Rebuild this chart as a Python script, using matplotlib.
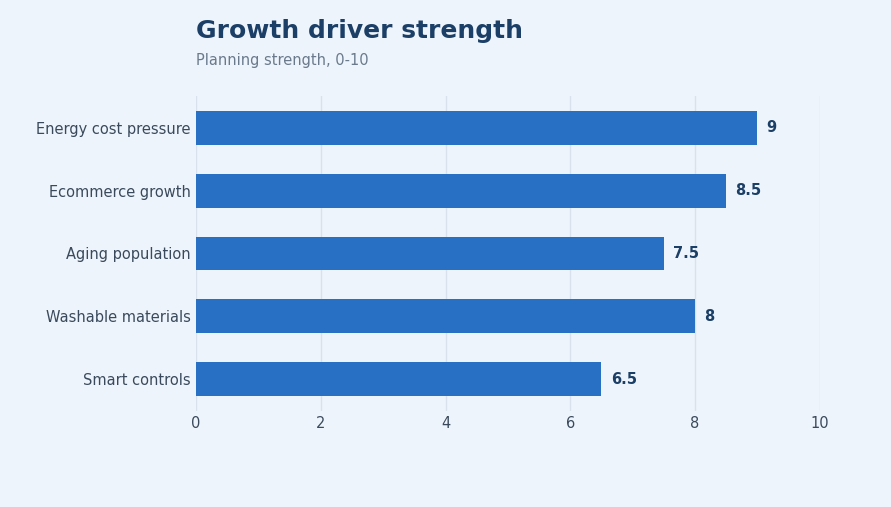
import matplotlib
matplotlib.use("Agg")
import matplotlib.pyplot as plt

categories = ["Energy cost pressure", "Ecommerce growth", "Aging population", "Washable materials", "Smart controls"]
values = [9, 8.5, 7.5, 8, 6.5]
xticks = [0, 2, 4, 6, 8, 10]

bg = "#EEF4FB"
fig = plt.figure(figsize=(8.91, 5.07), dpi=100, facecolor=bg)
ax = fig.add_axes([0.22, 0.19, 0.70, 0.62], facecolor=bg)
y = list(range(len(categories)))[::-1]
ax.barh(y, values, height=0.54, color="#2870C4", zorder=3)
for yi, v in zip(y, values):
    ax.text(v + 0.15, yi, f"{v:g}", va="center", ha="left", fontsize=10.5,
            fontweight="bold", color="#1B3F66")
ax.set_yticks(y)
ax.set_yticklabels(categories, fontsize=10.5, color="#3A4A5C")
ax.set_xticks(xticks)
ax.set_xticklabels([str(t) for t in xticks], fontsize=10.5, color="#3A4A5C")
ax.set_xlim(0, 10)
ax.set_ylim(-0.5, 4.5)
ax.grid(axis="x", color="#D9E2EC", linewidth=1, zorder=0)
for s in ax.spines.values():
    s.set_visible(False)
ax.tick_params(length=0, pad=4)
fig.text(0.22, 0.915, "Growth driver strength", fontsize=18, fontweight="bold", color="#1B3F66", va="bottom")
fig.text(0.22, 0.865, "Planning strength, 0-10", fontsize=10.5, color="#6A7A8C", va="bottom")
fig.savefig("out.png", dpi=100, facecolor=bg)
